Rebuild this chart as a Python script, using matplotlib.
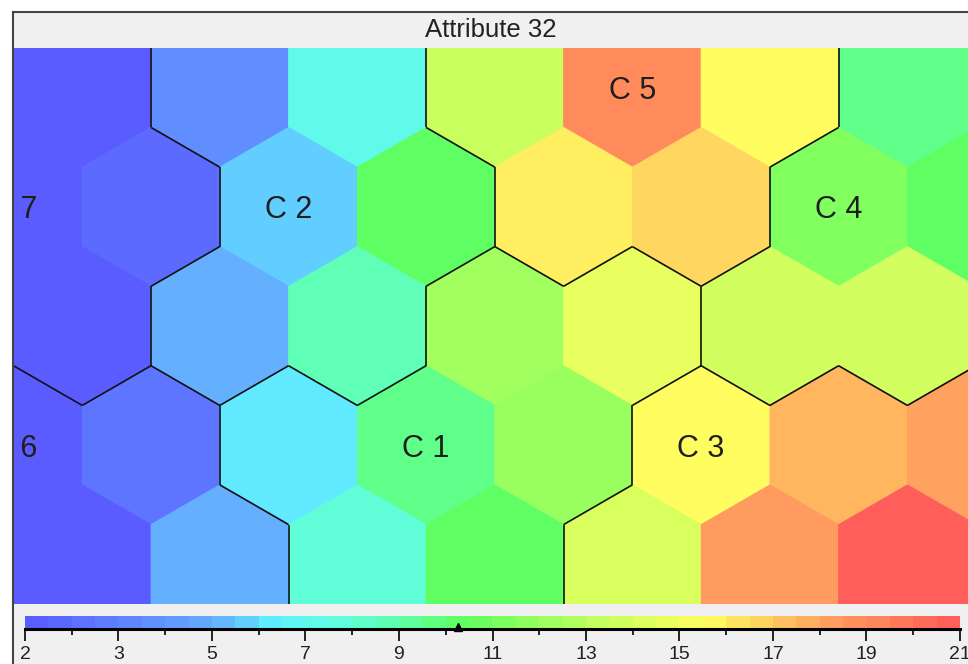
import numpy as np
import matplotlib
matplotlib.use("Agg")
import matplotlib.pyplot as plt
from matplotlib.colors import LinearSegmentedColormap, Normalize
from matplotlib.patches import RegularPolygon, Rectangle
from matplotlib.collections import LineCollection
from matplotlib.lines import Line2D

plt.rcParams['font.family'] = ['Liberation Sans', 'DejaVu Sans']

title = "Attribute 32"
vmin, vmax = 2.0, 21.0
marker_value = 10.8

# Component values per map row, top to bottom.
# Rows a, c, e are shifted half a cell to the right of rows b, d.
row_a = [2.1, 4.5, 8.0, 13.8, 19.1, 15.9, 10.2]
row_b = [2.1, 2.8, 6.4, 10.9, 16.3, 16.9, 11.8, 10.9]
row_c = [2.1, 5.9, 9.3, 12.7, 15.0, 14.1, 14.1]
row_d = [2.1, 3.3, 6.9, 10.2, 12.5, 15.9, 17.7, 18.3]
row_e = [2.1, 5.9, 8.6, 10.9, 14.4, 18.5, 20.8]

# Cluster membership of each cell
cluster_a = [7, 2, 2, 5, 5, 5, 4]
cluster_b = [7, 7, 2, 2, 5, 5, 4, 4]
cluster_c = [7, 2, 2, 1, 1, 4, 4]
cluster_d = [6, 6, 1, 1, 1, 3, 3, 3]
cluster_e = [6, 6, 1, 1, 3, 3, 3]

# Cluster names and the (row, column) cell each one is written on
cluster_names = ["C 1", "C 2", "C 3", "C 4", "C 5", "C 6", "C 7"]
name_cells = [(3, 3), (1, 2), (3, 5), (1, 6), (0, 4), (3, 0), (1, 0)]

cbar_ticklabels = ["2", "3", "5", "7", "9", "11", "13", "15", "17", "19", "21"]

value_rows = [row_a, row_b, row_c, row_d, row_e]
cluster_rows = [cluster_a, cluster_b, cluster_c, cluster_d, cluster_e]

# Pastel rainbow colour scale: violet-blue -> cyan -> green -> yellow -> red
anchors = [
    (0.00, (90, 90, 255)),
    (0.10, (95, 130, 255)),
    (0.20, (100, 172, 255)),
    (0.27, (95, 245, 255)),
    (0.35, (95, 255, 215)),
    (0.42, (95, 255, 150)),
    (0.47, (95, 255, 95)),
    (0.62, (200, 255, 95)),
    (0.73, (255, 255, 95)),
    (0.85, (255, 165, 95)),
    (1.00, (255, 90, 90)),
]
cmap = LinearSegmentedColormap.from_list(
    "somrainbow", [(p, tuple(c / 255 for c in rgb)) for p, rgb in anchors])
norm = Normalize(vmin=vmin, vmax=vmax)

W, H = 968, 664
fig = plt.figure(figsize=(W / 100, H / 100), dpi=100, facecolor="white")

def fx(px):
    return px / W

def fy(py):
    return 1 - py / H

# Panel background (behind the axes)
fig.patches.append(Rectangle((fx(13), 0), 1 - fx(13), fy(12), transform=fig.transFigure,
                             facecolor="#f0f0f0", edgecolor="none", zorder=-10))

fig.text(fx(490.5), fy(30), title, ha="center", va="center", fontsize=18.5, color="#222222")

# Hexagonal map
s = 1.0
w = np.sqrt(3) * s
px_per_unit = 79.4
map_left, map_top, map_bottom = 13.5, 48, 604
map_w = W - map_left
ax = fig.add_axes([fx(map_left), fy(map_bottom), map_w / W, (map_bottom - map_top) / H])
ax.set_xlim(0, map_w / px_per_unit)
ax.set_ylim(-6.5, 0.5)
ax.axis("off")

def center(r, c):
    x = (c + 0.5) * w if r % 2 == 0 else c * w
    return x, -1.5 * r

def vertices(x, y):
    ang = np.deg2rad(90 + 60 * np.arange(6))
    return [(round(x + s * np.cos(a), 4), round(y + s * np.sin(a), 4)) for a in ang]

cells = []
for r, (vals, cls) in enumerate(zip(value_rows, cluster_rows)):
    for c, (v, k) in enumerate(zip(vals, cls)):
        x, y = center(r, c)
        col = cmap(norm(v))
        ax.add_patch(RegularPolygon((x, y), numVertices=6, radius=s, orientation=0,
                                    facecolor=col, edgecolor=col, lw=0.6))
        cells.append((x, y, k, set(vertices(x, y))))

# Cluster borders: shared edges between neighbouring cells of different clusters
segments = []
for i in range(len(cells)):
    xi, yi, ki, vi = cells[i]
    for j in range(i + 1, len(cells)):
        xj, yj, kj, vj = cells[j]
        if ki == kj:
            continue
        if abs(np.hypot(xi - xj, yi - yj) - w) > 1e-3:
            continue
        common = sorted(vi & vj)
        if len(common) == 2:
            segments.append(common)
ax.add_collection(LineCollection(segments, colors="#111111", linewidths=1.2, zorder=3))

for name, (r, c) in zip(cluster_names, name_cells):
    x, y = center(r, c)
    ax.text(x, y, name, ha="center", va="center_baseline", fontsize=22, color="#1e1e1e",
            clip_on=True, zorder=4)

# Colour bar
cb_left, cb_right, cb_top, cb_bot = 25, 960, 616, 629
cax = fig.add_axes([fx(cb_left), fy(cb_bot), (cb_right - cb_left) / W, (cb_bot - cb_top) / H])
cax.patch.set_visible(False)
n_steps = 40
steps = vmin + (np.arange(n_steps) + 0.5) * (vmax - vmin) / n_steps
cax.imshow(steps[None, :], cmap=cmap, norm=norm, aspect="auto",
           extent=(vmin, vmax, 0, 1), interpolation="nearest")
cax.set_xlim(vmin, vmax)
cax.set_ylim(0, 1)
for side in ("top", "left", "right"):
    cax.spines[side].set_visible(False)
cax.spines["bottom"].set_linewidth(2.2)
cax.spines["bottom"].set_color("black")
cax.set_yticks([])
major = np.linspace(vmin, vmax, len(cbar_ticklabels))
cax.set_xticks(major)
cax.set_xticklabels(cbar_ticklabels, fontsize=14, color="#222222")
cax.set_xticks((major[:-1] + major[1:]) / 2, minor=True)
cax.tick_params(axis="x", which="major", direction="out", length=8.5, width=1.2, pad=3.5, color="black")
cax.tick_params(axis="x", which="minor", direction="out", length=4, width=1.2, color="black")
cax.plot([marker_value], [0.18], marker="^", color="black", markersize=5.5,
         clip_on=False, zorder=5)

# Frame lines drawn last so they sit over the map edge
fig.add_artist(Line2D([fx(13), fx(13)], [0, fy(12)], transform=fig.transFigure,
                      color="#444444", lw=1.5, zorder=10))
fig.add_artist(Line2D([fx(13), 1], [fy(12), fy(12)], transform=fig.transFigure,
                      color="#444444", lw=1.5, zorder=10))

fig.savefig("out.png", dpi=100, facecolor="white")
